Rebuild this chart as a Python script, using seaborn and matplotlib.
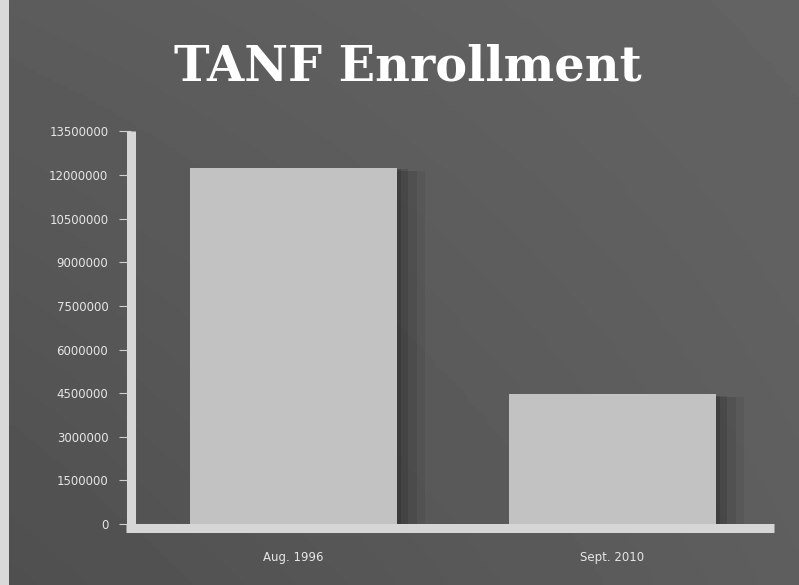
import numpy as np
import pandas as pd
import matplotlib
matplotlib.use("Agg")
import matplotlib.pyplot as plt
import matplotlib.patheffects as pe
from matplotlib.ticker import FixedLocator, FuncFormatter
import seaborn as sns

# Enrollment counts by reporting month
periods = ["Aug. 1996", "Sept. 2010"]
enrollment = [12240000, 4460000]
y_ticks = [0, 1500000, 3000000, 4500000, 6000000, 7500000,
           9000000, 10500000, 12000000, 13500000]
title_text = "TANF Enrollment"

sns.set_theme(style="dark")
plt.rcParams["font.family"] = ["DejaVu Sans"]

W, H, DPI = 799, 585, 100
fig = plt.figure(figsize=(W / DPI, H / DPI), dpi=DPI)

# Dark slate backdrop, slightly lighter toward the upper right
bg = fig.add_axes([0, 0, 1, 1], zorder=-10)
gx, gy = np.meshgrid(np.linspace(0, 1, 200), np.linspace(0, 1, 150))
shade = 0.31 + 0.06 * gx + 0.05 * (1 - gy) - 0.03 * (gx * (1 - gy))
bg.imshow(shade, cmap="gray", vmin=0, vmax=1, aspect="auto",
          extent=[0, 1, 0, 1], origin="upper")
bg.add_patch(plt.Rectangle((0, 0), 9 / W, 1, color="#d9d9d9", lw=0))
bg.set_xlim(0, 1)
bg.set_ylim(0, 1)
bg.axis("off")

ax = fig.add_axes([134 / W, 1 - 524 / H, (772 - 134) / W, (524 - 131.4) / H])
ax.set_facecolor("none")

df = pd.DataFrame({"period": periods, "enrollment": enrollment})
sns.barplot(data=df, x="period", y="enrollment", ax=ax, color="#c2c2c2",
            saturation=1, width=0.65, edgecolor="none", zorder=3)

# Soft drop shadow to the right of each bar
shadow = [
    pe.SimplePatchShadow(offset=(20, -2), shadow_rgbFace="black", alpha=0.06),
    pe.SimplePatchShadow(offset=(14, -2), shadow_rgbFace="black", alpha=0.08),
    pe.SimplePatchShadow(offset=(8, -1), shadow_rgbFace="black", alpha=0.10),
    pe.SimplePatchShadow(offset=(3, -1), shadow_rgbFace="black", alpha=0.12),
    pe.Normal(),
]
for p in ax.patches:
    p.set_path_effects(shadow)

ax.set_ylim(0, 13500000)
ax.yaxis.set_major_locator(FixedLocator(y_ticks))
ax.yaxis.set_major_formatter(FuncFormatter(lambda v, _: f"{int(round(v))}"))
ax.set_xlabel("")
ax.set_ylabel("")
ax.grid(False)

# Thick pale axis rails
for side in ["top", "right"]:
    ax.spines[side].set_visible(False)
for side in ["left", "bottom"]:
    sp = ax.spines[side]
    sp.set_visible(True)
    sp.set_color("#d6d6d6")
    sp.set_linewidth(6.5)
    sp.set_zorder(4)
ax.spines["left"].set_position(("outward", 2.5))
ax.spines["left"].set_capstyle("butt")
ax.spines["left"].set_bounds(-270000, 13500000)
ax.spines["bottom"].set_position(("outward", 2.9))
ax.spines["bottom"].set_capstyle("butt")
ax.spines["bottom"].set_bounds(-0.525, 1.505)

ax.tick_params(axis="y", which="major", left=True, length=9, width=0.8,
               color="#cfcfcf", pad=7, labelsize=8.5, labelcolor="#e6e6e6")
ax.tick_params(axis="x", which="major", bottom=False, length=0, pad=16.5,
               labelsize=8.5, labelcolor="#e6e6e6")

fig.text(0.51, 1 - 67 / H, title_text, ha="center", va="center",
         color="white", fontsize=34.5, fontweight="bold",
         family=["DejaVu Serif"])

fig.savefig("out.png", dpi=DPI)
